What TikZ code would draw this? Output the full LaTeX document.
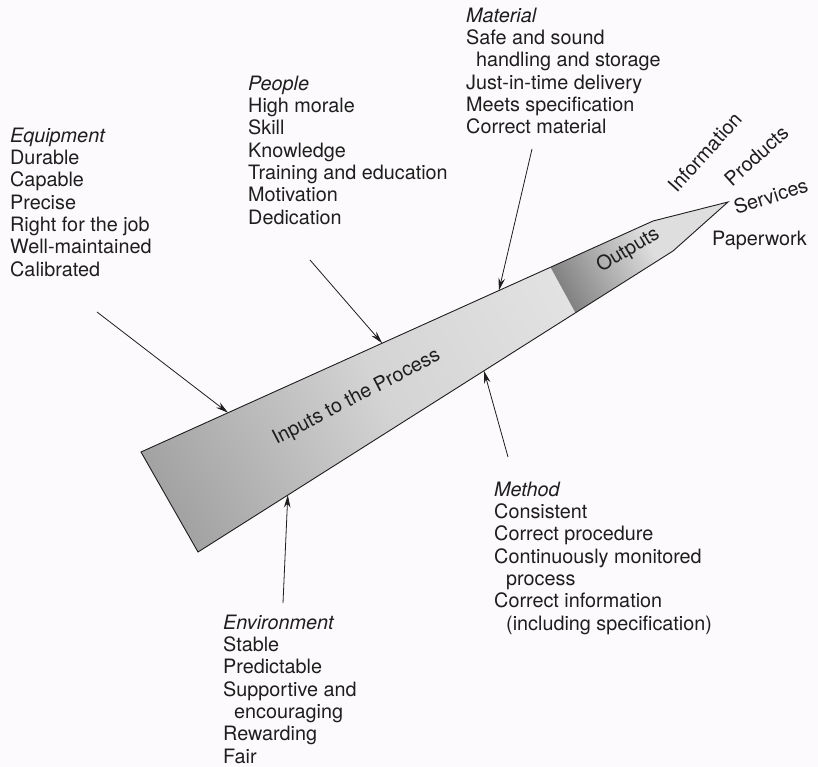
\documentclass[tikz,border=0pt]{standalone}
\usepackage{fontspec}
\setmainfont{TeX Gyre Heros}
\usetikzlibrary{arrows.meta,calc}

\definecolor{paper}{RGB}{252,250,252}
\definecolor{ink}{RGB}{30,30,30}
\definecolor{indark}{RGB}{160,160,160}
\definecolor{inmid}{RGB}{212,212,212}
\definecolor{inlight}{RGB}{226,226,226}
\definecolor{outdark}{RGB}{130,130,130}
\definecolor{outlight}{RGB}{222,222,222}

\begin{document}
\begin{tikzpicture}[
    x=1pt, y=-1pt,
    inner sep=0pt,
    txt/.style={anchor=north west, align=left, text=ink,
        font=\fontsize{19.8}{22.3}\selectfont},
    lbl/.style={anchor=base, text=ink,
        font=\fontsize{19.8}{22.3}\selectfont},
    feed/.style={draw=ink, line width=0.8pt},
    >={Stealth[length=12.5pt,width=6.5pt]},
    ]
    \fill[paper] (0,0) rectangle (818,767);
    \useasboundingbox (0,0) rectangle (818,767);

    % corners of the process arrow
    \coordinate (tl) at (141,452);
    \coordinate (bl) at (198,552);
    \coordinate (ts) at (653,221);
    \coordinate (bs) at (673,251);
    \coordinate (tip) at (728,202);

    % shading runs along the arrow, inputs first, then outputs
    \begin{scope}
        \clip (tl) -- (ts) -- (tip) -- (bs) -- (bl) -- cycle;
        \begin{scope}[transform canvas={shift={(141,452)},rotate=28.7}]
            \shade[left color=indark, right color=inmid] (-10,-200) rectangle (241,200);
            \shade[left color=inmid, right color=inlight] (240,-200) rectangle (449,200);
            \shade[left color=outdark, right color=outlight] (448,-200) rectangle (546,200);
            \fill[outlight] (545,-200) rectangle (660,200);
        \end{scope}
    \end{scope}
    \draw[ink, line width=0.9pt] (tl) -- (ts) -- (tip) -- (bs) -- (bl) -- cycle;

    \node[lbl, rotate=27.5] (inputs) at (359,402) {Inputs to the Process};
    \node[lbl, rotate=31] (outputs) at (631,255) {Outputs};

    % what goes in
    \node[txt] (equipment) at (10,126.4) {\strut\textit{Equipment}\\
        Durable\\Capable\\Precise\\Right for the job\\Well-maintained\\Calibrated};
    \node[txt] (people) at (248,74.4) {\strut\textit{People}\\
        High morale\\Skill\\Knowledge\\Training and education\\Motivation\\Dedication};
    \node[txt] (material) at (466,6.4) {\strut\textit{Material}\\
        Safe and sound\\\hspace*{10pt}handling and storage\\Just-in-time delivery\\
        Meets specification\\Correct material};
    \node[txt] (method) at (494,480.4) {\strut\textit{Method}\\
        Consistent\\Correct procedure\\Continuously monitored\\\hspace*{12pt}process\\
        Correct information\\\hspace*{12pt}(including specification)};
    \node[txt] (environment) at (223,613.4) {\strut\textit{Environment}\\
        Stable\\Predictable\\Supportive and\\\hspace*{11pt}encouraging\\Rewarding\\Fair};

    % what comes out
    \node[lbl, rotate=48] (information) at (710,157) {Information};
    \node[lbl, rotate=42] (products) at (761,161) {Products};
    \node[lbl, rotate=18] (services) at (773,203) {Services};
    \node[lbl, anchor=base west] (paperwork) at (712,245) {Paperwork};

    % feeds into the process
    \coordinate (equipment-in) at (97,312);
    \coordinate (people-in) at (310,260);
    \coordinate (material-in) at (532,149);
    \coordinate (method-in) at (508,457);
    \coordinate (environment-in) at (283,603);
    \coordinate (equipment-at) at ($(tl)!0.17!(ts)$);
    \coordinate (people-at) at ($(tl)!0.471!(ts)$);
    \coordinate (material-at) at ($(tl)!0.699!(ts)$);
    \coordinate (method-at) at ($(bl)!0.602!(bs)$);
    \coordinate (environment-at) at ($(bl)!0.189!(bs)$);
    \draw[feed,->] (equipment-in) -- (equipment-at);
    \draw[feed,->] (people-in) -- (people-at);
    \draw[feed,->] (material-in) -- (material-at);
    \draw[feed,->] (method-in) -- (method-at);
    \draw[feed,->] (environment-in) -- (environment-at);
\end{tikzpicture}
\end{document}
